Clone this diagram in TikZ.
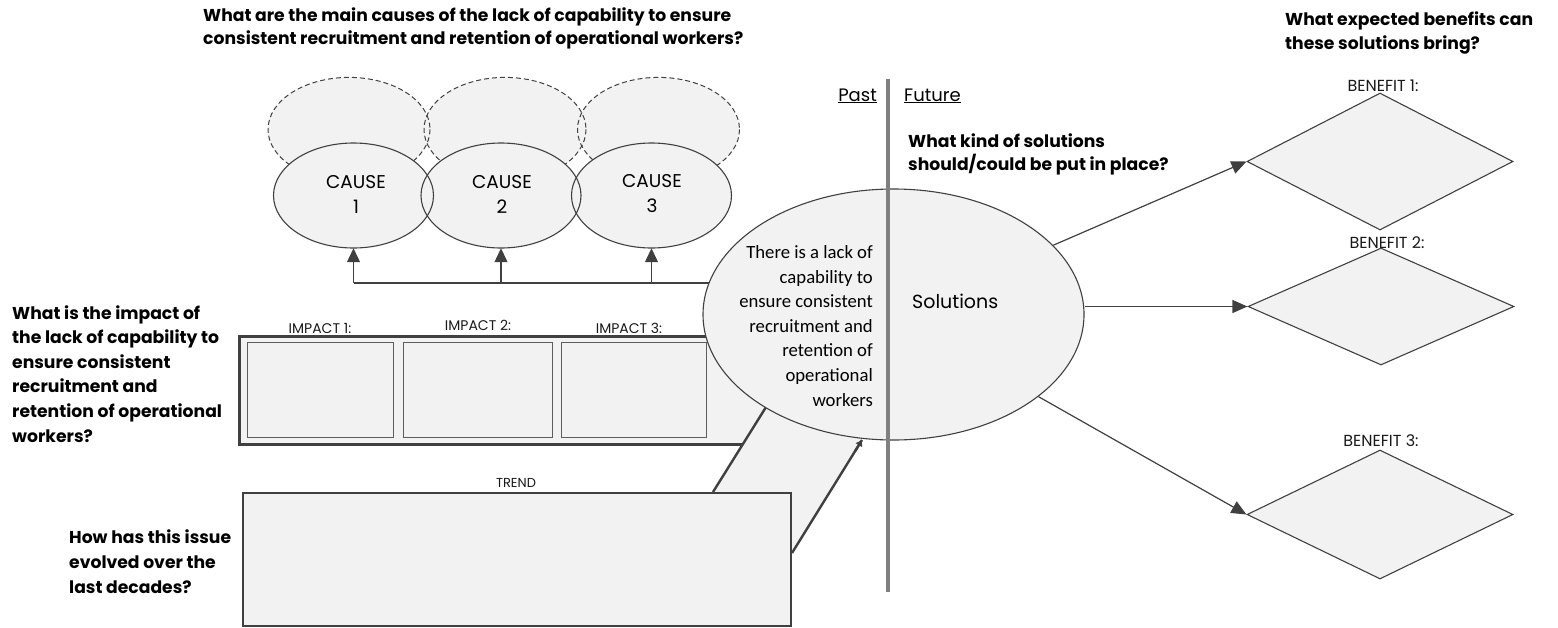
\documentclass[tikz,border=0pt]{standalone}
\usepackage{fontspec}
\setmainfont{Poppins}
\newfontfamily\calib{Carlito}
\usetikzlibrary{shapes.geometric,arrows.meta,calc}
\definecolor{fillg}{HTML}{F2F2F2}
\definecolor{lineg}{HTML}{404040}
\definecolor{divg}{HTML}{808080}
\begin{document}
\begin{tikzpicture}[x=1pt,y=-1pt,
  question/.style={font=\bfseries\fontsize{17.2}{22.3}\selectfont, align=left, anchor=base west, inner sep=0pt},
  questionb/.style={font=\bfseries\fontsize{17.2}{24.6}\selectfont, align=left, anchor=base west, inner sep=0pt},
  smalllabel/.style={font=\fontsize{14}{16}\selectfont, inner sep=0pt, text=black!90},
  fillell/.style={ellipse, fill=fillg, draw=none, inner sep=0pt},
  arrC/.style={draw=lineg, line width=1.2pt, -{Triangle[length=14pt,width=13pt]}},
  arrB/.style={draw=lineg, line width=1.2pt, -{Triangle[length=15pt,width=13pt]}},
  benefit/.style={diamond, draw=lineg, fill=fillg, line width=1.1pt, inner sep=0pt, minimum width=266pt},
  innerbox/.style={draw=lineg!85, fill=fillg, line width=1.3pt},
]
\useasboundingbox (0,0) rectangle (1558,627);

% questions (anchored at the baseline of their last line)
\node[question] (qcause) at (203,44) {What are the main causes of the lack of capability to ensure\\consistent recruitment and retention of operational workers?};
\node[questionb, font=\bfseries\fontsize{17.2}{24}\selectfont] (qbenefit) at (1285,49) {What expected benefits can\\these solutions bring?};
\node[questionb] (qimpact) at (12,442) {What is the impact of\\the lack of capability to\\ensure consistent\\recruitment and\\retention of operational\\workers?};
\node[questionb] (qtrend) at (69,593) {How has this issue\\evolved over the\\last decades?};
\node[question, font=\bfseries\fontsize{17.2}{23}\selectfont] (qsol) at (908,170) {What kind of solutions\\should/could be put in place?};

% dashed ellipses
\foreach \n/\x in {d1/349,d2/505,d3/658.5}
  \node[fillell, minimum width=162pt, minimum height=104pt] (\n) at (\x,129.4) {};
\foreach \n in {d1,d2,d3}
  \draw[lineg, line width=1pt, dash pattern=on 5pt off 3pt] (\n.center) ellipse [x radius=81, y radius=52];

% cause ellipses
\foreach \n/\x in {c1/353.5,c2/501,c3/651.5}
  \node[fillell, minimum width=160pt, minimum height=105pt] (\n) at (\x,195.5) {};
\foreach \n in {c1,c2,c3}
  \draw[lineg, line width=1.1pt] (\n.center) ellipse [x radius=80, y radius=52.5];
\node[font=\fontsize{18.5}{25}\selectfont, align=center, inner sep=0pt] (t1) at (356,194) {CAUSE\\1};
\node[font=\fontsize{18.5}{25}\selectfont, align=center, inner sep=0pt] (t2) at (502,194) {CAUSE\\2};
\node[font=\fontsize{18.5}{25}\selectfont, align=center, inner sep=0pt] (t3) at (652,194) {CAUSE\\3};

% cause connectors
\coordinate (hl) at (353.5,283);
\coordinate (hr) at (760,283);
\draw[lineg, line width=1.2pt] (hl) -- (hr);
\draw[arrC] (c1.south |- hl) -- (c1.south);
\draw[arrC] (c2.south |- hl) -- (c2.south);
\draw[arrC] (c3.south |- hl) -- (c3.south);

% impact
\node[draw=lineg, fill=fillg, line width=3pt, minimum width=542pt, minimum height=108pt, inner sep=0pt, anchor=north west] (impact) at (238,335) {};
\node[innerbox, minimum width=146pt, minimum height=95pt, anchor=north west, inner sep=0pt] (i1) at (247,342) {};
\node[innerbox, minimum width=149pt, minimum height=95pt, anchor=north west, inner sep=0pt] (i2) at (403,342) {};
\node[innerbox, minimum width=145pt, minimum height=95pt, anchor=north west, inner sep=0pt] (i3) at (561,342) {};
\node[smalllabel] (li1) at (320,328) {IMPACT 1:};
\node[smalllabel] (li2) at (478,325) {IMPACT 2:};
\node[smalllabel] (li3) at (629,328) {IMPACT 3:};

% band from trend to issue
\coordinate (bl0) at (713,492);
\coordinate (bl1) at (791,367);
\coordinate (br1) at (862,440);
\coordinate (br0) at (792,553);
\fill[fillg] (706,503) -- (bl1) -- (br1) -- (br0) -- (780,560) -- cycle;
\draw[lineg, line width=2.4pt] (bl0) -- (bl1);
\draw[lineg, line width=2.4pt] (br0) -- (br1);

% trend
\node[draw=lineg, fill=fillg, line width=2.4pt, minimum width=548pt, minimum height=133pt, inner sep=0pt, anchor=north west] (trend) at (242,492) {};
\node[smalllabel, font=\fontsize{13}{15}\selectfont] (ltrend) at (516,483) {TREND};

% issue ellipse
\node[ellipse, draw=lineg, fill=fillg, line width=1.1pt, minimum width=381pt, minimum height=251pt, inner sep=0pt] (issue) at (893.5,314.5) {};
\draw[lineg, line width=2.4pt, -{Triangle[length=6pt,width=7pt]}] ($(br1)!0.1!(br0)$) -- (br1);
\node[font=\calib\fontsize{18.7}{24.6}\selectfont, align=right, anchor=base east, inner sep=0pt] (issuetext) at (873,406) {There is a lack of\\capability to\\ensure consistent\\recruitment and\\retention of\\operational\\workers};
\node[font=\fontsize{19}{22}\selectfont, anchor=west, inner sep=0pt] (soltext) at (912,301) {Solutions};

% divider
\coordinate (dtop) at (888,79);
\coordinate (dbot) at (888,592);
\draw[divg, line width=4pt] (dtop) -- (dbot);
\node[font=\fontsize{18}{20}\selectfont, anchor=base east, inner sep=0pt] (past) at (877,101) {\underline{Past}};
\node[font=\fontsize{18}{20}\selectfont, anchor=base west, inner sep=0pt] (future) at (904,101) {\underline{Future}};

% benefits
\node[benefit, minimum height=137pt] (b1) at (1380,161.5) {};
\node[benefit, minimum height=117pt] (b2) at (1381,306.5) {};
\node[benefit, minimum height=129pt] (b3) at (1380,514.5) {};
\node[smalllabel, font=\fontsize{16}{18}\selectfont] (lb1) at (1383,86) {BENEFIT 1:};
\node[smalllabel, font=\fontsize{16}{18}\selectfont] (lb2) at (1387,243) {BENEFIT 2:};
\node[smalllabel, font=\fontsize{16}{18}\selectfont] (lb3) at (1381,441) {BENEFIT 3:};

\draw[arrB] (issue) -- (b1.west);
\draw[arrB] (issue.east |- b2.west) -- (b2.west);
\draw[arrB] (issue) -- (b3.west);
\end{tikzpicture}
\end{document}
